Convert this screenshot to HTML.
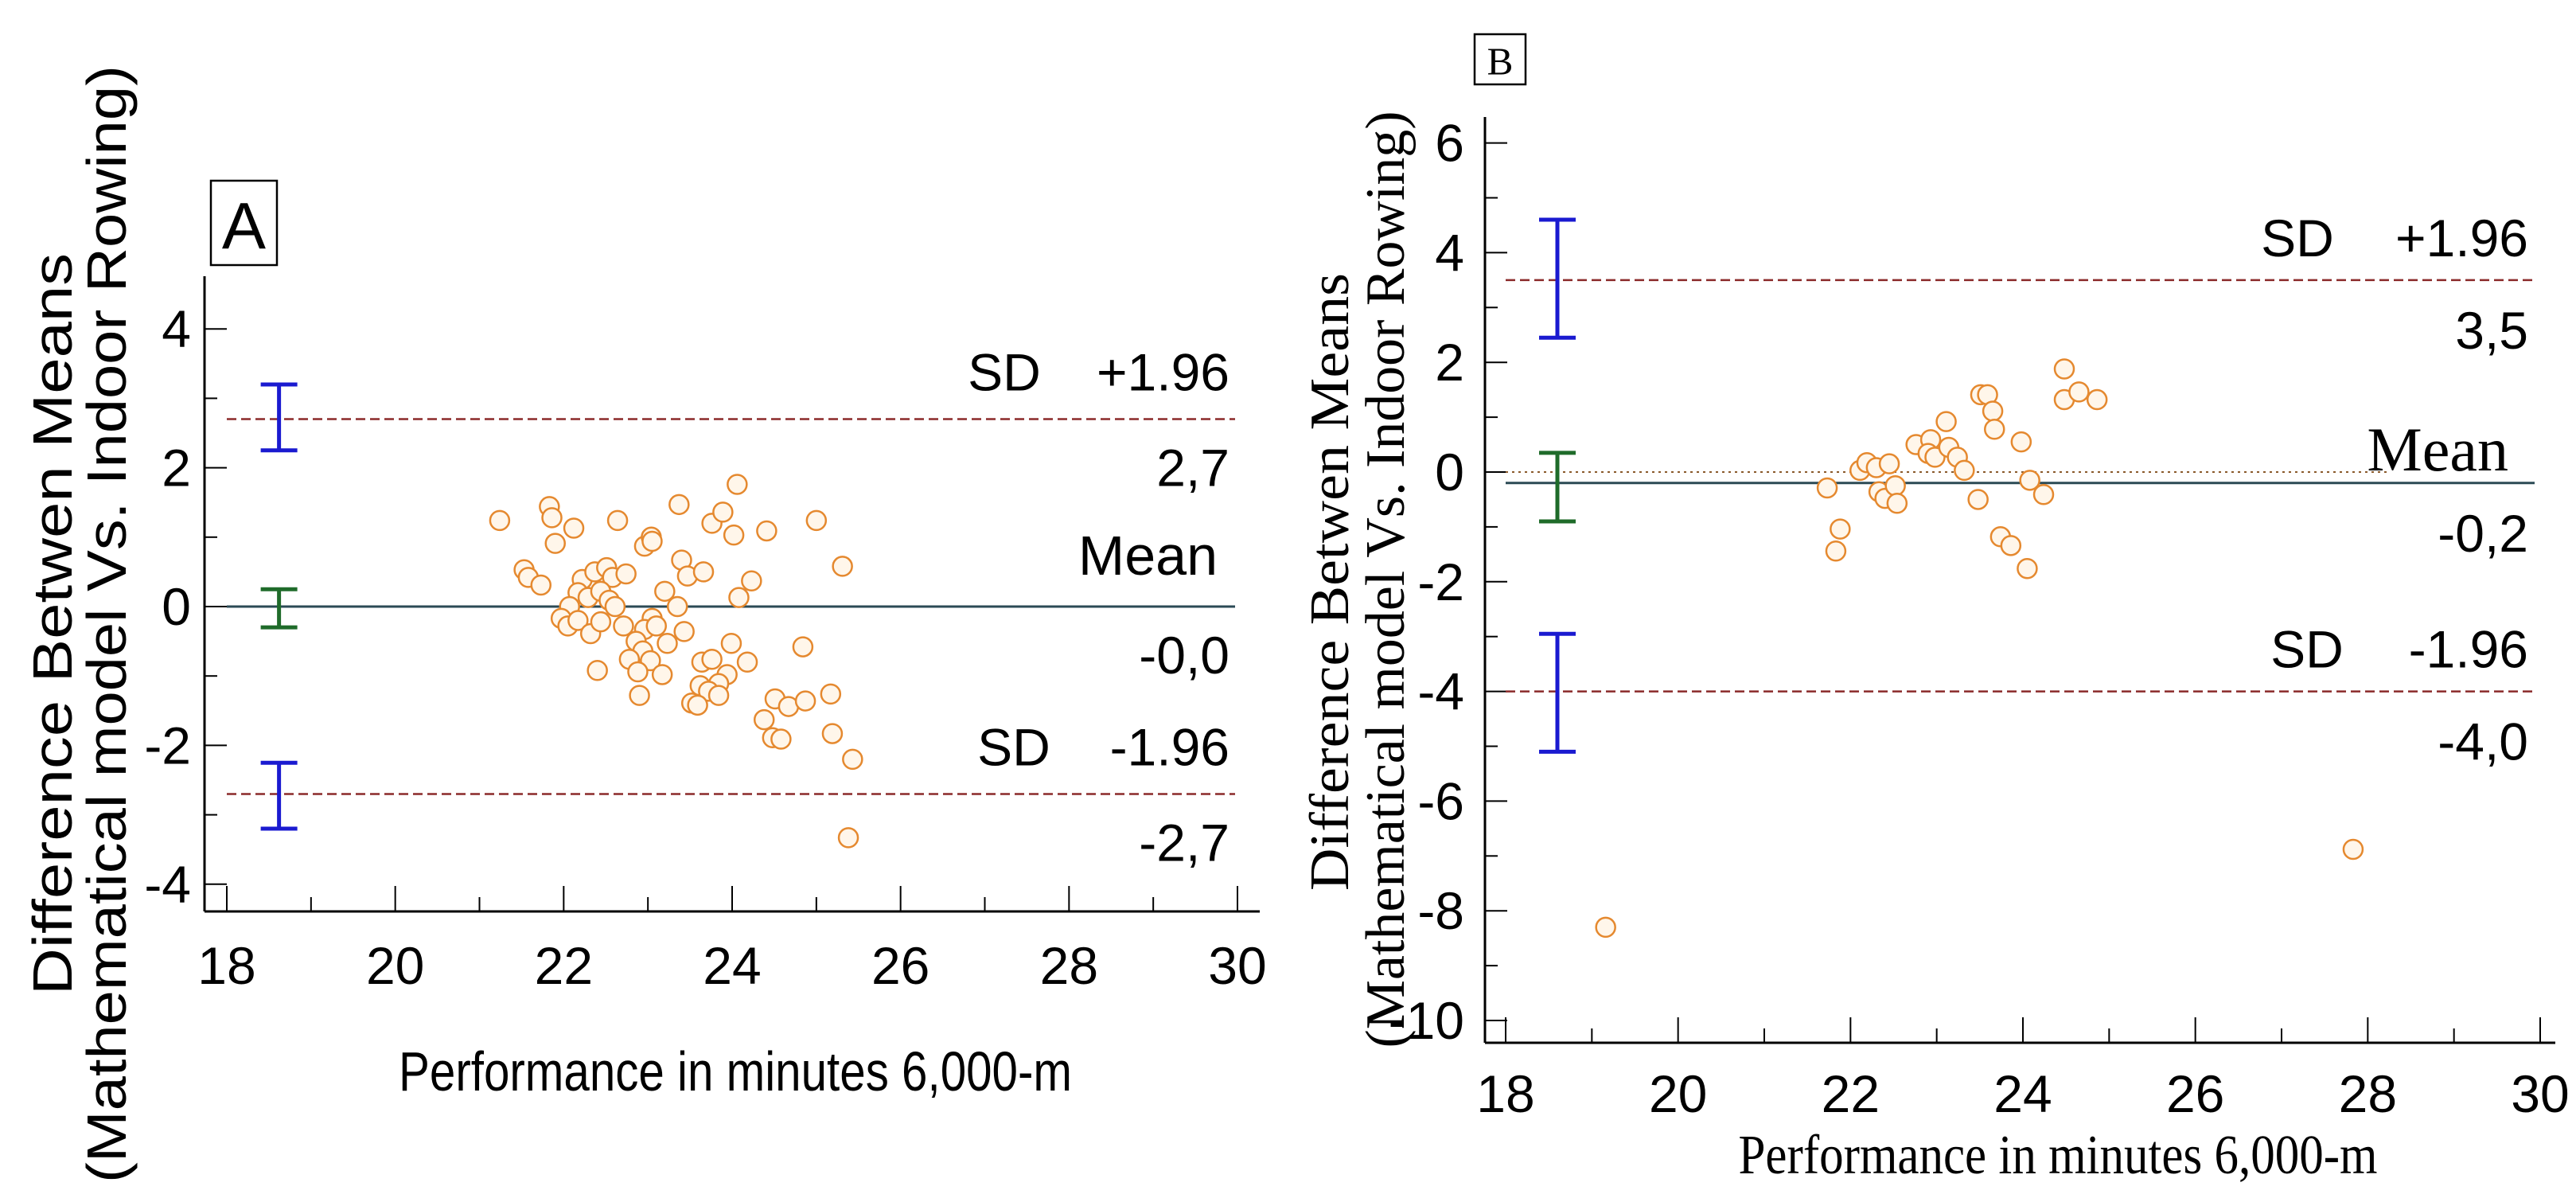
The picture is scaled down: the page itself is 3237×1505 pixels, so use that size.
<!DOCTYPE html>
<html><head><meta charset="utf-8"><style>
html,body{margin:0;padding:0;background:#fff;}
svg{display:block;}
.s{font-family:"Liberation Sans",sans-serif;}
.r{font-family:"Liberation Serif",serif;}
</style></head><body>
<svg id="c" width="3237" height="1505" viewBox="0 0 3237 1505" xmlns="http://www.w3.org/2000/svg"></svg>
<script>
// Panel A data
const aX = [21.24,21.83,21.86,21.9,22.12,22.64,21.53,21.58,21.73,23.37,24.06,23.76,23.89,24.02,24.41,25.0,25.31,22.96,23.04,23.05,23.4,23.47,23.66,24.23,24.08,22.22,22.37,22.51,22.58,22.74,22.17,22.29,22.44,22.54,22.61,23.2,23.35,22.07,21.97,22.05,22.17,22.32,22.44,22.71,23.05,22.96,23.1,23.23,23.43,22.86,22.94,22.78,23.03,22.88,23.17,22.4,22.9,23.64,23.76,23.99,24.18,23.94,23.84,23.62,23.72,23.52,23.59,23.84,24.84,24.51,24.67,24.87,25.17,24.38,24.48,24.58,25.19,25.43,25.38];
const aY = [1.24,1.44,1.28,0.91,1.13,1.24,0.53,0.42,0.31,1.47,1.76,1.2,1.36,1.03,1.09,1.24,0.58,0.87,1.0,0.94,0.67,0.44,0.5,0.37,0.13,0.39,0.5,0.56,0.42,0.47,0.2,0.13,0.22,0.09,0,0.22,0,0,-0.17,-0.28,-0.2,-0.39,-0.22,-0.28,-0.17,-0.33,-0.28,-0.53,-0.36,-0.5,-0.64,-0.76,-0.78,-0.94,-0.98,-0.92,-1.28,-0.8,-0.76,-0.53,-0.8,-0.98,-1.11,-1.14,-1.22,-1.39,-1.42,-1.28,-0.58,-1.33,-1.44,-1.36,-1.26,-1.63,-1.89,-1.91,-1.83,-2.2,-3.33];
const aLines = [2.7, 0.0, -2.7];
const aCI = [[2.25,3.2],[-0.3,0.25],[-3.2,-2.25]];
const aYTicks = [4,2,0,-2,-4];
// Panel B data
const bX = [21.73,21.88,21.83,22.11,22.19,22.3,22.33,22.45,22.4,22.52,22.54,22.76,22.93,22.9,22.98,23.11,23.14,23.24,23.32,23.48,23.51,23.59,23.65,23.67,23.74,23.86,23.98,24.05,24.08,24.24,24.48,24.48,24.65,24.86,19.16,27.83];
const bY = [-0.29,-1.04,-1.44,0.03,0.17,0.08,-0.36,0.15,-0.48,-0.25,-0.57,0.5,0.59,0.34,0.27,0.92,0.45,0.27,0.03,-0.5,1.41,1.41,1.11,0.78,-1.18,-1.34,0.55,-1.76,-0.15,-0.41,1.88,1.32,1.46,1.32,-8.3,-6.88];
const bLines = [3.5, -0.2, -4.0];
const bCI = [[2.45,4.6],[-0.9,0.35],[-5.1,-2.95]];
const bYTicks = [6,4,2,0,-2,-4,-6,-8,-10];
const xTicks = [18,20,22,24,26,28,30];

const svg = document.getElementById('c');
const NS = 'http://www.w3.org/2000/svg';
function mk(tag, attrs, parent){const e=document.createElementNS(NS,tag);for(const k in attrs)e.setAttribute(k,attrs[k]);(parent||svg).appendChild(e);return e;}
function txt(s, attrs, parent){const e=mk('text',attrs,parent);e.textContent=s;return e;}

function panel(P){
  const g = mk('g',{});
  
  
  const sx = v => P.x0 + (v-18)*(P.x1-P.x0)/12;
  const sy = v => P.y0 - v*P.ppu;
  const ya = mk('line',{x1:P.ax,y1:P.atop,x2:P.ax,y2:P.ay,stroke:'#000','stroke-width':3},g);
   
  const xa = mk('line',{x1:P.ax,y1:P.ay,x2:P.aright,y2:P.ay,stroke:'#000','stroke-width':3},g);
   
  const ymin=P.yticks[P.yticks.length-1], ymax=P.yticks[0];
  for(let v=ymin; v<=ymax; v+=1){
    const major = P.yticks.includes(v);
    mk('line',{x1:P.ax,y1:sy(v),x2:P.ax+(major?28:16),y2:sy(v),stroke:'#000','stroke-width':2},g);
  }
  P.yticks.forEach(v=>{
    const t=txt(String(v),{x:P.ylx,y:sy(v)+23,'text-anchor':'end','font-size':66,class:'s'},g);
    
    
  });
  for(let v=18; v<=30; v+=1){
    const major = xTicks.includes(v);
    mk('line',{x1:sx(v),y1:P.ay,x2:sx(v),y2:P.ay-(major?32:18),stroke:'#000','stroke-width':2},g);
  }
  xTicks.forEach(v=>{
    const t=txt(String(v),{x:sx(v),y:P.xly,'text-anchor':'middle','font-size':66,class:'s'},g);
    
    
  });
  if(P.dotted){
    const d=mk('line',{x1:P.lx0,y1:sy(0),x2:P.dotEnd,y2:sy(0),stroke:'#8b5a2b','stroke-width':2,'stroke-dasharray':'3,5'},g);
     
  }
  P.lines.forEach((v,i)=>{
    const mean = i===1;
    const l=mk('line',{x1:P.lx0,y1:sy(v),x2:P.lx1,y2:sy(v),stroke:mean?'#2b4a55':'#8b2a2a','stroke-width':mean?3:2.5,'stroke-dasharray':mean?'none':'12,6'},g);
    
    
  });
  P.ci.forEach((c,i)=>{
    const col = i===1?'#1f6b2a':'#1a1ad0';
    const xc = sx(P.ciX);
    const eg=mk('g',{stroke:col,'stroke-width':5},g);
    
    
    mk('line',{x1:xc,y1:sy(c[0]),x2:xc,y2:sy(c[1])},eg);
    mk('line',{x1:xc-23,y1:sy(c[0]),x2:xc+23,y2:sy(c[0])},eg);
    mk('line',{x1:xc-23,y1:sy(c[1]),x2:xc+23,y2:sy(c[1])},eg);
  });
  P.xs.forEach((xv,i)=>{
    const c=mk('circle',{cx:sx(xv),cy:sy(P.ys[i]),r:12,fill:'#fff6ea',stroke:'#e5892f','stroke-width':2.5},g);
    
    
  });
  const fs=66;
  const L = (s,x,y,anchor,cls,name,size)=>{const t=txt(s,{x:x,y:y,'text-anchor':anchor,'font-size':size||fs,class:cls},g);return t;};
  L('SD',P.sdx,sy(P.lines[0])-P.above,'middle','s','sd-upper-label');
  L('+1.96',P.rx,sy(P.lines[0])-P.above,'end','s','plus-196-label');
  L(P.fmt[0],P.rx,sy(P.lines[0])+P.below,'end','s','upper-limit-value');
  L('Mean',P.meanx,sy(P.lines[1])-P.meanAbove,'end',P.meanCls,'mean-label',P.meanSize);
  L(P.fmt[1],P.rx,sy(P.lines[1])+P.below,'end','s','mean-value');
  L('SD',P.sdx+12,sy(P.lines[2])-P.above,'middle','s','sd-lower-label');
  L('-1.96',P.rx,sy(P.lines[2])-P.above,'end','s','minus-196-label');
  L(P.fmt[2],P.rx,sy(P.lines[2])+P.below,'end','s','lower-limit-value');
  const tc=P.titleCls;
  const xt=txt('Performance in minutes 6,000-m',{x:P.xtx,y:P.xty,'text-anchor':'middle','font-size':70,class:tc,textLength:P.xtl,lengthAdjust:'spacingAndGlyphs'},g);
   
  const y1=txt('Difference Betwen Means',{x:0,y:0,'text-anchor':'middle','font-size':70,class:tc,textLength:P.y1l,lengthAdjust:'spacingAndGlyphs',transform:`translate(${P.y1x},${P.y1c}) rotate(-90)`},g);
   
  const y2=txt('(Mathematical model Vs. Indoor Rowing)',{x:0,y:0,'text-anchor':'middle','font-size':70,class:tc,textLength:P.y2l,lengthAdjust:'spacingAndGlyphs',transform:`translate(${P.y2x},${P.y2c}) rotate(-90)`},g);
   
  const bx=mk('rect',{x:P.box[0],y:P.box[1],width:P.box[2],height:P.box[3],fill:'#fff',stroke:'#000','stroke-width':2.5},g);
   
  const bt=txt(P.letter,{x:P.box[0]+P.box[2]/2,y:P.box[1]+P.box[3]*0.8,'text-anchor':'middle','font-size':P.box[3]*0.78,class:tc},g);
   
}

panel({name:'panel-a',x0:285,x1:1555,y0:762,ppu:87.2,ax:257,ay:1145,atop:347,aright:1583,
  yticks:aYTicks,ylx:240,xly:1236,lines:aLines,ci:aCI,ciX:18.62,xs:aX,ys:aY,
  lx0:285,lx1:1552,dotted:false,fmt:['2,7','-0,0','-2,7'],
  sdx:1262,rx:1545,above:36,below:84,meanx:1530,meanAbove:40,meanCls:'s',meanSize:70,
  titleCls:'s',xtx:924,xty:1370,xtl:846,y1x:90,y1c:784,y1l:932,y2x:158,y2c:784,y2l:1404,
  box:[265,227,83,106],letter:'A'});

panel({name:'panel-b',x0:1892,x1:3192,y0:593,ppu:68.9,ax:1866,ay:1310,atop:147,aright:3211,
  yticks:bYTicks,ylx:1840,xly:1397,lines:bLines,ci:bCI,ciX:18.6,xs:bX,ys:bY,
  lx0:1892,lx1:3185,dotted:true,dotEnd:3000,fmt:['3,5','-0,2','-4,0'],
  sdx:2887,rx:3177,above:30,below:86,meanx:3152,meanAbove:16,meanCls:'r',meanSize:78,
  titleCls:'r',xtx:2586,xty:1474,xtl:803,y1x:1694,y1c:731,y1l:776,y2x:1764,y2c:728,y2l:1177,
  box:[1853,43,64,63],letter:'B'});
</script>
</body></html>
